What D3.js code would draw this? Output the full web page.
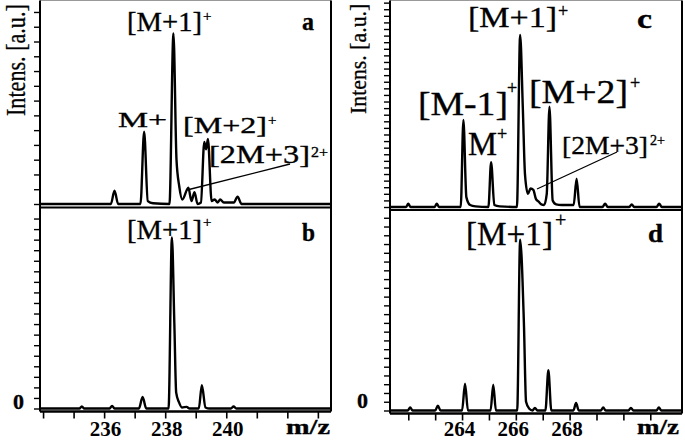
<!DOCTYPE html>
<html>
<head>
<meta charset="utf-8">
<script src="https://cdn.jsdelivr.net/npm/d3@7"></script>
<style>
  html, body { margin: 0; padding: 0; background: #fff; }
  svg { display: block; }
  text { font-family: "Liberation Serif", "Times New Roman", serif; fill: #000; }
</style>
</head>
<body>
<svg id="chart"></svg>
<script>
// x ticks (m/z) and which of them get a number
const leftTicks = [234, 235, 236, 237, 238, 239, 240, 241, 242, 243];
const leftTickLabels = [236, 238, 240];
const rightTicks = [262, 263, 264, 265, 266, 267, 268, 269, 270, 271];
const rightTickLabels = [264, 266, 268];

// spectra: [m/z, intensity in a.u.]
const traceA = [
  [233.9, 0], [236.22, 0], [236.34, 0.9], [236.46, 0],
  [237.19, 0], [237.31, 4.9], [237.43, 0.2], [237.6, 0.05],
  [238.14, 0], [238.27, 11.55], [238.37, 3], [238.46, 1.2], [238.56, 0.3],
  [238.76, 1.1], [238.86, 0.2], [238.96, 0.8], [239.06, 0], [239.17, 0.1],
  [239.28, 4.2], [239.34, 3.7], [239.4, 4.4], [239.52, 0.2], [239.62, 0.3],
  [239.72, 0.1], [239.8, 0.3], [239.92, 0.1], [240.1, 0.1], [240.25, 0.1],
  [240.37, 0.5], [240.5, 0], [243.43, 0]
];
const traceB = [
  [233.9, 0], [235.19, 0], [235.27, 0.2], [235.35, 0], [236.18, 0], [236.26, 0.25], [236.34, 0],
  [237.14, 0], [237.26, 1.1], [237.38, 0],
  [238.11, 0], [238.22, 16.2], [238.3, 8], [238.36, 1.5], [238.45, 0.6], [238.55, 0.1],
  [238.7, 0.15], [238.8, 0], [239.1, 0], [239.2, 2.2], [239.32, 0.1], [239.45, 0],
  [240.15, 0], [240.24, 0.2], [240.33, 0], [243.43, 0]
];
const traceC = [
  [261.32, 0], [261.92, 0], [262.0, 0.5], [262.08, 0], [262.98, 0], [263.06, 0.5], [263.14, 0],
  [263.95, 0], [264.05, 13.2], [264.16, 1.5], [264.3, 0.3], [264.5, 0.1],
  [264.98, 0], [265.08, 6.8], [265.2, 0.3], [265.4, 0.1],
  [266.04, 0], [266.16, 26.1], [266.26, 15], [266.34, 5], [266.45, 2], [266.55, 2.8],
  [266.65, 2.6], [266.75, 1.2], [266.85, 0.8], [266.95, 0.4], [267.05, 0.3],
  [267.15, 2], [267.25, 15.2], [267.37, 1], [267.5, 0.4], [267.7, 0.3], [267.9, 0.3],
  [268.15, 0.3], [268.26, 4.3], [268.37, 0],
  [269.22, 0], [269.32, 0.5], [269.42, 0], [270.22, 0], [270.31, 0.4], [270.4, 0],
  [271.23, 0], [271.33, 0.5], [271.43, 0], [272.18, 0]
];
const traceD = [
  [261.32, 0], [261.98, 0], [262.07, 0.35], [262.16, 0], [263.0, 0], [263.1, 0.55], [263.2, 0],
  [264.0, 0], [264.11, 3.05], [264.22, 0], [265.06, 0], [265.16, 2.95], [265.26, 0],
  [266.05, 0], [266.16, 19.5], [266.3, 10], [266.38, 1], [266.5, 0.2], [266.62, 0],
  [266.71, 0.3], [266.8, 0], [267.1, 0], [267.21, 4.6], [267.32, 0],
  [268.14, 0], [268.24, 0.85], [268.34, 0], [269.16, 0], [269.25, 0.35], [269.34, 0],
  [270.19, 0], [270.28, 0.3], [270.37, 0], [271.23, 0], [271.32, 0.35], [271.41, 0],
  [272.18, 0]
];

const W = 685;
const H = 442;

const svg = d3.select("#chart").attr("width", W).attr("height", H)
    .attr("viewBox", `0 0 ${W} ${H}`);

svg.append("rect").attr("width", W).attr("height", H).attr("fill", "#fff");

const xLeft = d3.scaleLinear().domain([233.9, 243.43]).range([40, 331]);
const xRight = d3.scaleLinear().domain([261.32, 272.18]).range([390, 682]);

const panels = [
  { trace: traceA, x: xLeft,  y: d3.scaleLinear().domain([0, 13.81]).range([204, 0]) },
  { trace: traceB, x: xLeft,  y: d3.scaleLinear().domain([0, 19.0]).range([408.5, 208]) },
  { trace: traceC, x: xRight, y: d3.scaleLinear().domain([0, 31.4]).range([207, 0]) },
  { trace: traceD, x: xRight, y: d3.scaleLinear().domain([0, 23.0]).range([410.5, 209]) }
];

// y ticks, no numbers
panels.forEach(p => {
  const ax = svg.append("g")
      .attr("transform", `translate(${p.x.range()[0]},0)`)
      .call(d3.axisLeft(p.y)
        .tickValues(d3.range(0, p.y.domain()[1], 1))
        .tickSize(6).tickSizeOuter(0).tickFormat(""));
  ax.select(".domain").remove();
  ax.selectAll("line").attr("stroke", "#000").attr("stroke-width", 1.4);
});

// frames
function frame(x0, x1, yTop, yMid, yBot) {
  const g = svg.append("g").attr("stroke", "#000").attr("fill", "none");
  g.append("line").attr("x1", x0).attr("x2", x1).attr("y1", yTop).attr("y2", yTop)
    .attr("stroke", "#999").attr("stroke-width", 1);
  g.append("line").attr("x1", x0).attr("x2", x0).attr("y1", yTop).attr("y2", yBot).attr("stroke-width", 2);
  g.append("line").attr("x1", x1).attr("x2", x1).attr("y1", yTop).attr("y2", yBot).attr("stroke-width", 2);
  g.append("line").attr("x1", x0).attr("x2", x1).attr("y1", yMid).attr("y2", yMid).attr("stroke-width", 2);
  g.append("line").attr("x1", x0).attr("x2", x1).attr("y1", yBot).attr("y2", yBot).attr("stroke-width", 2.5);
}
frame(40, 331, 0.5, 207.5, 411.5);
frame(390, 682, 0.5, 210, 413.5);

// spectra
panels.forEach(p => {
  const line = d3.line()
      .x(d => p.x(d[0]))
      .y(d => p.y(d[1]))
      .curve(d3.curveMonotoneX);
  svg.append("path")
      .datum(p.trace)
      .attr("d", line)
      .attr("fill", "none")
      .attr("stroke", "#000")
      .attr("stroke-width", 2.4)
      .attr("stroke-linejoin", "round");
});

// x axes
function xAxis(x, ticks, labels, y0, dx) {
  const ax = svg.append("g")
      .attr("transform", `translate(0,${y0})`)
      .call(d3.axisBottom(x).tickValues(ticks).tickSize(7)
        .tickSizeOuter(0).tickFormat(d => labels.includes(d) ? d : ""));
  ax.select(".domain").remove();
  ax.selectAll("line").attr("stroke", "#000").attr("stroke-width", 1.6);
  ax.selectAll("text")
      .attr("y", 436 - y0).attr("dy", 0).attr("dx", dx)
      .attr("font-family", '"Liberation Serif", serif')
      .attr("font-size", 21).attr("font-weight", "bold").attr("fill", "#000");
}
xAxis(xLeft, leftTicks, leftTickLabels, 411.5, 1);
xAxis(xRight, rightTicks, rightTickLabels, 413.5, -3);

// text helper
function label(x, y, txt, size, opts = {}) {
  const t = svg.append("text").attr("x", x).attr("y", y)
      .attr("font-size", size).text(txt)
      .attr("stroke", "#000").attr("stroke-width", 0.35);
  if (opts.bold) t.attr("font-weight", "bold");
  if (opts.len) t.attr("textLength", opts.len).attr("lengthAdjust", "spacingAndGlyphs");
  if (opts.anchor) t.attr("text-anchor", opts.anchor);
  return t;
}

// y axis titles (squeezed along the text, like the original scan)
svg.append("text")
    .attr("transform", "translate(25,116) rotate(-90) scale(0.82,1)")
    .attr("font-size", 27)
    .attr("stroke", "#000").attr("stroke-width", 0.3)
    .text("Intens. [a.u.]");
svg.append("text")
    .attr("transform", "translate(366,114) rotate(-90) scale(0.91,1)")
    .attr("font-size", 24)
    .attr("stroke", "#000").attr("stroke-width", 0.3)
    .text("Intens. [a.u.]");

// zero labels and m/z
label(13, 409, "0", 22, { bold: true });
label(357, 408, "0", 22, { bold: true });
label(286, 434, "m/z", 21, { bold: true, len: 44 });
label(637, 434, "m/z", 21, { bold: true, len: 42 });

// panel letters
label(302, 30, "a", 26, { bold: true, len: 12 });
label(302, 241, "b", 26, { bold: true, len: 13 });
label(637, 28, "c", 28, { bold: true, len: 15 });
label(648, 242, "d", 26, { bold: true, len: 15 });

// panel a
label(127, 31, "[M+1]", 28, { len: 75 });
label(203, 21, "+", 15);
label(118, 127, "M+", 22, { len: 49 });
label(183, 133, "[M+2]", 24, { len: 84 });
label(268, 125, "+", 15);
label(209, 163, "[2M+3]", 26, { len: 101 });
label(311, 157, "2+", 15, { len: 17 });
svg.append("line").attr("x1", 187).attr("y1", 190).attr("x2", 290).attr("y2", 164)
   .attr("stroke", "#000").attr("stroke-width", 1.3);

// panel b
label(127, 239, "[M+1]", 28, { len: 75 });
label(203, 227, "+", 15);

// panel c
label(468, 27, "[M+1]", 30, { len: 89 });
label(558, 17, "+", 18);
label(418, 115, "[M-1]", 34, { len: 90 });
label(507, 94, "+", 18);
label(468, 155, "M", 33, { len: 29 });
label(497, 140, "+", 18);
label(529, 103, "[M+2]", 34, { len: 99 });
label(630, 89, "+", 18);
label(562, 154, "[2M+3]", 26, { len: 86 });
label(650, 145, "2+", 15, { len: 15 });
svg.append("line").attr("x1", 537).attr("y1", 189).attr("x2", 617).attr("y2", 152)
   .attr("stroke", "#000").attr("stroke-width", 1.3);

// panel d
label(466, 245, "[M+1]", 34, { len: 87 });
label(555, 227, "+", 20);
</script>
</body>
</html>
